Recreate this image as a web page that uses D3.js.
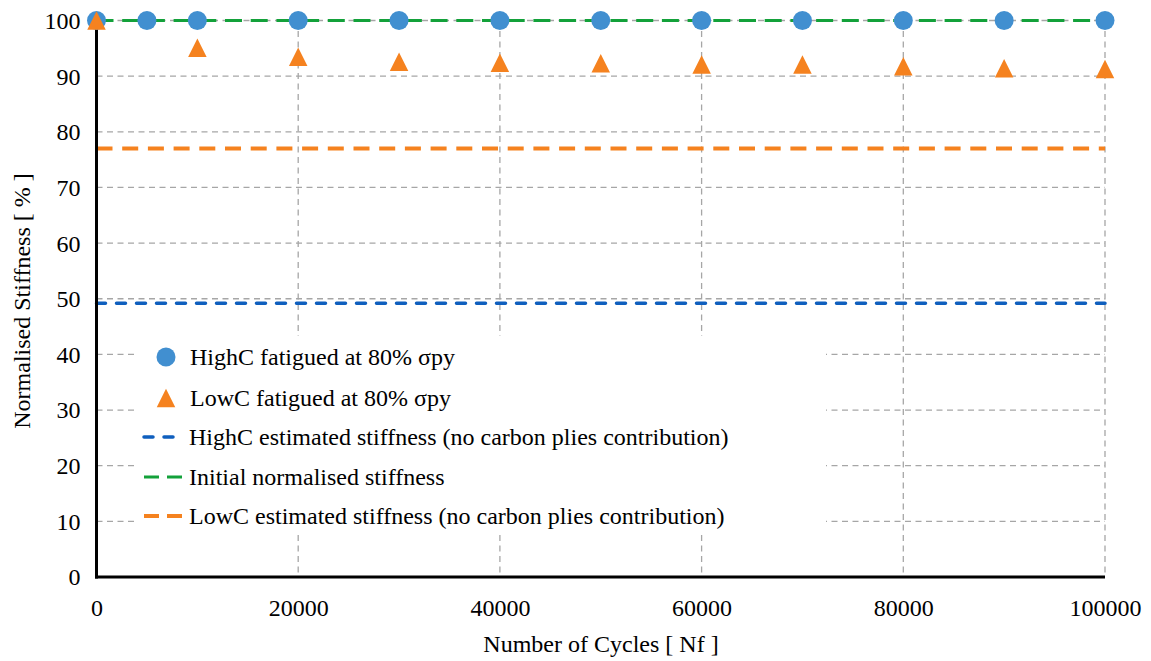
<!DOCTYPE html>
<html><head><meta charset="utf-8">
<script src="https://cdn.jsdelivr.net/npm/d3@7"></script>
<style>
html,body{margin:0;padding:0;background:#fff;}
</style></head>
<body><svg id="c" width="1151" height="661"></svg>
<script>
// ---- data ----
const highCCycles = [0, 5000, 10000, 20000, 30000, 40000, 50000, 60000, 70000, 80000, 90000, 100000];
const highCStiffness = [100, 100, 100, 100, 100, 100, 100, 100, 100, 100, 100, 100];
const lowCCycles = [0, 10000, 20000, 30000, 40000, 50000, 60000, 70000, 80000, 90000, 100000];
const lowCStiffness = [100, 95.1, 93.5, 92.6, 92.4, 92.3, 92.1, 92.1, 91.8, 91.4, 91.3];
const highCEstimated = 49.2;
const initialStiffness = 100;
const lowCEstimated = 77.0;
const xTicks = [0, 20000, 40000, 60000, 80000, 100000];
const yTicks = [0, 10, 20, 30, 40, 50, 60, 70, 80, 90, 100];
const legendLabels = [
  "HighC fatigued at 80% \u03c3py",
  "LowC fatigued at 80% \u03c3py",
  "HighC estimated stiffness (no carbon plies contribution)",
  "Initial normalised stiffness",
  "LowC estimated stiffness (no carbon plies contribution)"
];

const C = {blueDot:"#418FD0", orange:"#F5821F", blueLine:"#0F5FBE", green:"#13A13A", grid:"#A6A6A6"};
const FONT = "Liberation Serif";

const svg = d3.select("#c");
const x = d3.scaleLinear().domain([0, 100000]).range([96.5, 1105]);
const y = d3.scaleLinear().domain([0, 100]).range([577, 20.5]);

// gridlines
const g = svg.append("g");
g.selectAll(".hg").data(yTicks.filter(d => d > 0)).enter().append("line")
  .attr("x1", x(0)).attr("x2", x(100000)).attr("y1", d => y(d)).attr("y2", d => y(d))
  .attr("stroke", C.grid).attr("stroke-width", 1.3).attr("stroke-dasharray", "6,4.5");
g.selectAll(".vg").data(xTicks.filter(d => d > 0)).enter().append("line")
  .attr("x1", d => x(d)).attr("x2", d => x(d)).attr("y1", y(100)).attr("y2", y(0))
  .attr("stroke", C.grid).attr("stroke-width", 1.3).attr("stroke-dasharray", "6,4.5");

// reference lines
function hline(v, color, w, dash, cap) {
  svg.append("line").attr("x1", x(0)).attr("x2", x(100000)).attr("y1", y(v)).attr("y2", y(v))
    .attr("stroke", color).attr("stroke-width", w).attr("stroke-dasharray", dash)
    .attr("stroke-linecap", cap || "butt");
}
hline(highCEstimated, C.blueLine, 3.5, "9,11", "round");
hline(initialStiffness, C.green, 2.8, "17,8.7");
hline(lowCEstimated, C.orange, 4, "16,9.7");

// axes
const yAxis = d3.axisLeft(y).tickValues(yTicks).tickSize(0).tickPadding(16);
const yg = svg.append("g").attr("transform", `translate(${x(0)},0)`).call(yAxis);
yg.attr("font-family", FONT).attr("font-size", 24);
yg.select(".domain").remove();
yg.selectAll("text").attr("dy", "0.33em");

const xAxis = d3.axisBottom(x).tickValues(xTicks).tickSize(0).tickPadding(20).tickFormat(d3.format("d"));
const xg = svg.append("g").attr("transform", `translate(0,${y(0)})`).call(xAxis);
xg.attr("font-family", FONT).attr("font-size", 24);
xg.select(".domain").remove();
xg.selectAll("text").attr("dy", "0.78em");

svg.append("line").attr("x1", x(0)).attr("x2", x(0)).attr("y1", y(100)).attr("y2", y(0) + 1.5)
  .attr("stroke", "#000").attr("stroke-width", 3);
svg.append("line").attr("x1", x(0) - 1.5).attr("x2", x(100000)).attr("y1", y(0)).attr("y2", y(0))
  .attr("stroke", "#000").attr("stroke-width", 3);

// titles
svg.append("text").attr("x", 601).attr("y", 652).attr("text-anchor", "middle").attr("font-size", 24)
  .attr("font-family", FONT).text("Number of Cycles [ Nf ]");
svg.append("text").attr("transform", "translate(30,301) rotate(-90)").attr("text-anchor", "middle").attr("font-size", 24)
  .attr("font-family", FONT).text("Normalised Stiffness [ % ]");

// markers
svg.append("g").selectAll("circle").data(highCCycles).enter().append("circle")
  .attr("cx", d => x(d)).attr("cy", (d, i) => y(highCStiffness[i])).attr("r", 9.5).attr("fill", C.blueDot);
function triPath(cx, cy, s) {
  return `M${cx},${cy - s/2}L${cx + s/2},${cy + s/2}L${cx - s/2},${cy + s/2}Z`;
}
svg.append("g").selectAll("path").data(lowCCycles).enter().append("path")
  .attr("d", (d, i) => triPath(x(d), y(lowCStiffness[i]), 18.5)).attr("fill", C.orange);

// legend
const lg = svg.append("g");
lg.append("rect").attr("x", 136).attr("y", 336).attr("width", 690).attr("height", 199).attr("fill", "#fff");
const rowsY = [357, 398, 437, 477, 516];
lg.append("circle").attr("cx", 166).attr("cy", rowsY[0]).attr("r", 9.5).attr("fill", C.blueDot);
lg.append("path").attr("d", triPath(166, rowsY[1], 18.5)).attr("fill", C.orange);
lg.append("line").attr("x1", 144).attr("x2", 180).attr("y1", rowsY[2]).attr("y2", rowsY[2])
  .attr("stroke", C.blueLine).attr("stroke-width", 3.5).attr("stroke-dasharray", "9,11").attr("stroke-linecap", "round");
lg.append("line").attr("x1", 144).attr("x2", 188).attr("y1", rowsY[3]).attr("y2", rowsY[3])
  .attr("stroke", C.green).attr("stroke-width", 2.8).attr("stroke-dasharray", "15,8");
lg.append("line").attr("x1", 144).attr("x2", 188).attr("y1", rowsY[4]).attr("y2", rowsY[4])
  .attr("stroke", C.orange).attr("stroke-width", 4).attr("stroke-dasharray", "15,8");
const textX = [190, 190, 189, 189, 189];
lg.selectAll("text.l").data(legendLabels).enter().append("text")
  .attr("x", (d, i) => textX[i]).attr("y", (d, i) => rowsY[i]).attr("dy", "0.33em")
  .attr("font-size", 24).attr("font-family", FONT)
  .text(d => d);
</script></body></html>
